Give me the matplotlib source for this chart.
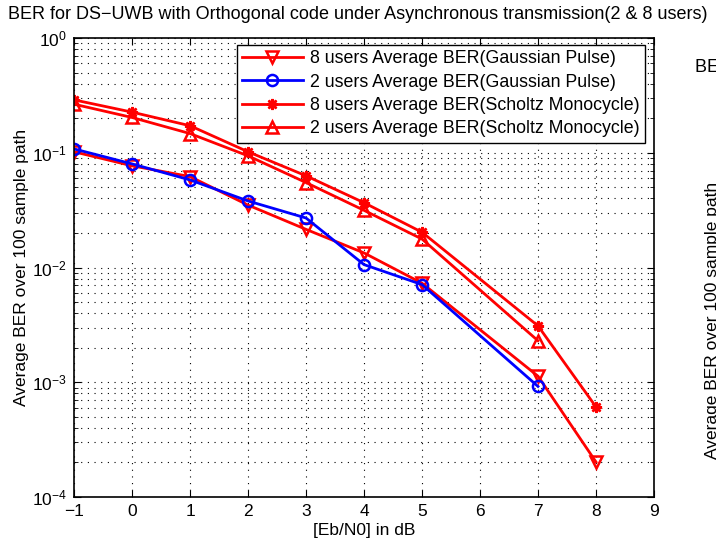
import matplotlib
matplotlib.use('Agg')
import matplotlib.pyplot as plt
from matplotlib.ticker import LogLocator, NullFormatter

plt.rcParams['font.family'] = ['Liberation Sans', 'DejaVu Sans']
plt.rcParams['mathtext.fontset'] = 'custom'
plt.rcParams['mathtext.rm'] = 'Liberation Sans'

# data
ebn0_8g = [-1, 0, 1, 2, 3, 4, 5, 7, 8]
ber_8g = [0.102, 0.077, 0.062, 0.035, 0.0215, 0.0134, 0.0073, 0.00113, 0.000202]
ebn0_2g = [-1, 0, 1, 2, 3, 4, 5, 7]
ber_2g = [0.108, 0.080, 0.058, 0.038, 0.027, 0.0106, 0.0071, 0.00092]
ebn0_8s = [-1, 0, 1, 2, 3, 4, 5, 7, 8]
ber_8s = [0.289, 0.226, 0.172, 0.102, 0.063, 0.0367, 0.0203, 0.0031, 0.00061]
ebn0_2s = [-1, 0, 1, 2, 3, 4, 5, 7]
ber_2s = [0.265, 0.203, 0.147, 0.094, 0.055, 0.0315, 0.0177, 0.0023]

labels = ['8 users Average BER(Gaussian Pulse)',
          '2 users Average BER(Gaussian Pulse)',
          '8 users Average BER(Scholtz Monocycle)',
          '2 users Average BER(Scholtz Monocycle)']
title = 'BER for DS\u2212UWB with Orthogonal code under Asynchronous transmission(2 & 8 users)'
ylab = 'Average BER over 100 sample path'
fs = 12.5

fig = plt.figure(figsize=(7.16, 5.43), dpi=100)
ax = fig.add_axes([0.1034, 0.0847, 0.81, 0.8453])

asterisk = (8, 2, 0)
ax.semilogy(ebn0_8g, ber_8g, 'r-', marker='v', mfc='none', mew=1.8, ms=8, lw=2, label=labels[0])
ax.semilogy(ebn0_2g, ber_2g, 'b-', marker='o', mfc='none', mew=1.8, ms=8, lw=2, label=labels[1])
ax.semilogy(ebn0_8s, ber_8s, 'r-', marker=asterisk, mew=1.8, ms=8, lw=2, label=labels[2])
ax.semilogy(ebn0_2s, ber_2s, 'r-', marker='^', mfc='none', mew=1.8, ms=8, lw=2, label=labels[3])

ax.set_xlim(-1, 9)
ax.set_ylim(1e-4, 1)
ax.set_xticks(range(-1, 10))
ax.yaxis.set_major_locator(LogLocator(base=10, numticks=10))
ax.yaxis.set_minor_locator(LogLocator(base=10, subs=range(2, 10), numticks=10))
ax.yaxis.set_minor_formatter(NullFormatter())
ax.tick_params(which='both', direction='in', top=True, right=True, labelsize=fs, pad=5)
ax.tick_params(which='major', length=5)
ax.tick_params(which='minor', length=3)
dots = (0, (1, 5))
ax.grid(True, which='major', ls=dots, color='k', lw=0.8)
ax.grid(True, which='minor', axis='y', ls=dots, color='k', lw=0.8)
for s in ax.spines.values():
    s.set_linewidth(1.2)

ax.set_title(title, fontsize=13, pad=14, x=0.49)
ax.set_xlabel('[Eb/N0] in dB', fontsize=fs, labelpad=3)
ax.set_ylabel(ylab, fontsize=fs, labelpad=2)

leg = ax.legend(loc='upper right', bbox_to_anchor=(0.984, 0.985), fontsize=12.8, handlelength=3.4,
                fancybox=False, edgecolor='k', framealpha=1, borderpad=0.3, labelspacing=0.36,
                handletextpad=0.4, borderaxespad=0)
leg.get_frame().set_linewidth(1.0)

# clipped pieces of a neighbouring subplot at the right edge
fig.text(695 / 716, 1 - 72 / 543, title, fontsize=13, ha='left', va='baseline')
fig.text(705 / 716, 1 - 320 / 543, ylab, fontsize=fs, rotation=90, ha='left', va='center')

fig.savefig('out.png', dpi=100)
